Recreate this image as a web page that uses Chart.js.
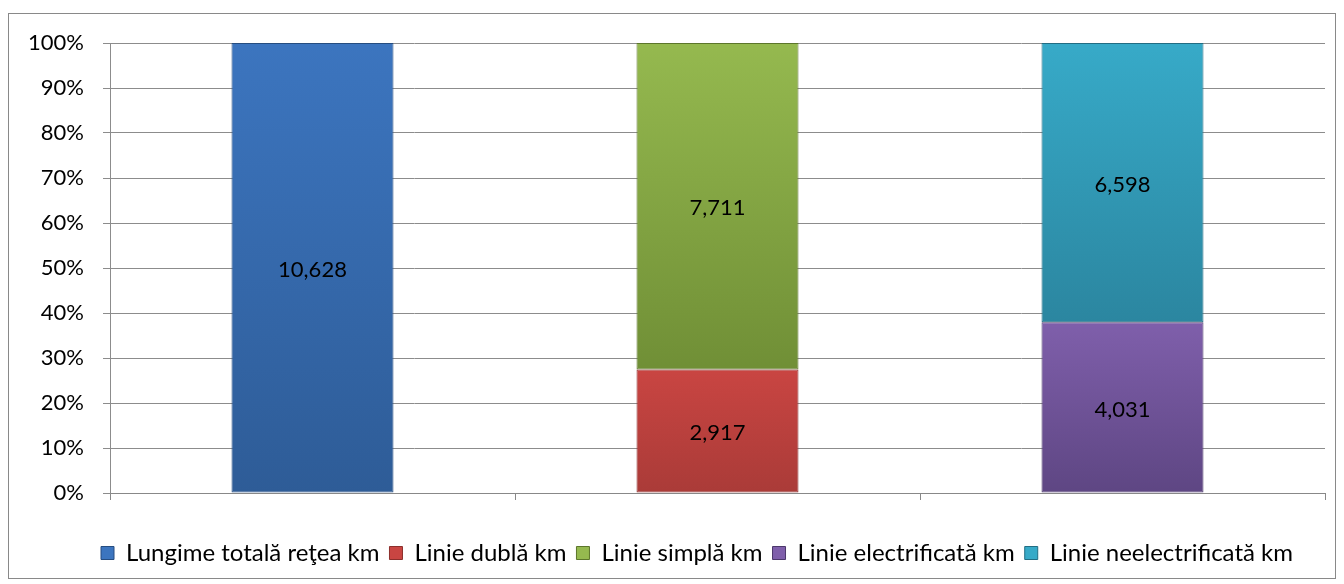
<!DOCTYPE html>
<html>
<head>
<meta charset="utf-8">
<script src="https://cdn.jsdelivr.net/npm/chart.js@4/dist/chart.umd.min.js"></script>
<style>
  body { margin: 0; background: #fff; }
  #box {
    position: absolute; left: 8px; top: 13px;
    width: 1328px; height: 566px;
    border: 1px solid #898989; box-sizing: border-box;
  }
</style>
</head>
<body>
<div id="box"><canvas id="myChart"></canvas></div>
<script>
// categories (x axis has no visible labels)
let categories = ['Total', 'Dublă / simplă', 'Electrificare'];

// km per series, one value per category
let seriesNames = ['Lungime totală reţea km', 'Linie dublă km', 'Linie simplă km',
    'Linie electrificată km', 'Linie neelectrificată km'];
let totalKm = [10628, 0, 0];
let dublaKm = [0, 2917, 0];
let simplaKm = [0, 7711, 0];
let electrKm = [0, 0, 4031];
let neelectrKm = [0, 0, 6598];

let yTicks = [0, 10, 20, 30, 40, 50, 60, 70, 80, 90, 100];

// gradient colours: top, bottom, edge
let colorsTop = ['#3c75bf', '#c94542', '#95b94f', '#7f5fab', '#37aac8'];
let colorsBottom = ['#2e5c97', '#aa3b38', '#708f36', '#5e4683', '#2b86a0'];
let colorsEdge = ['#264d80', '#8c2f2c', '#5c762b', '#4c386b', '#226d83'];

let raw = [totalKm, dublaKm, simplaKm, electrKm, neelectrKm];

// 100% stacked: each value as share of its category sum
let sums = categories.map((c, i) => raw.reduce((s, arr) => s + arr[i], 0));
let percent = raw.map(arr => arr.map((v, i) => v / sums[i] * 100));

function gradientFill(ctx, d) {
    const chart = ctx.chart;
    const area = chart.chartArea;
    const yScale = chart.scales.y;
    if (!area || !yScale) return colorsTop[d];
    let start = 0;
    for (let k = 0; k < d; k++) start += percent[k][ctx.dataIndex];
    const end = start + percent[d][ctx.dataIndex];
    const y0 = yScale.getPixelForValue(end);
    const y1 = yScale.getPixelForValue(start);
    if (!isFinite(y0) || !isFinite(y1) || y0 === y1) return colorsTop[d];
    const g = chart.ctx.createLinearGradient(0, y0, 0, y1);
    g.addColorStop(0, colorsTop[d]);
    g.addColorStop(1, colorsBottom[d]);
    return g;
}

let datasets = seriesNames.map((name, d) => ({
    label: name,
    data: percent[d],
    backgroundColor: ctx => gradientFill(ctx, d),
    borderColor: colorsEdge[d],
    borderWidth: 1,
    borderSkipped: false,
    categoryPercentage: 0.4,
    barPercentage: 1
}));

// value labels in the middle of each segment
const valueLabels = {
    id: 'valueLabels',
    afterDatasetsDraw(chart) {
        const ctx = chart.ctx;
        ctx.save();
        ctx.font = '22px Lato';
        ctx.fillStyle = '#000';
        ctx.textAlign = 'center';
        ctx.textBaseline = 'middle';
        chart.data.datasets.forEach((ds, d) => {
            const meta = chart.getDatasetMeta(d);
            meta.data.forEach((bar, i) => {
                const v = raw[d][i];
                if (!v) return;
                ctx.fillText(v.toLocaleString('en-US'), bar.x, (bar.y + bar.base) / 2 + 2);
            });
        });
        ctx.restore();
    }
};

// legend sits a little right of centre in the original
const legendShift = {
    id: 'legendShift',
    afterLayout(chart) {
        if (chart.legend) {
            chart.legend.left += 30;
            chart.legend.right += 30;
        }
    }
};

let myChart = document.getElementById('myChart').getContext('2d');

let chart = new Chart(myChart, {
    type: 'bar',
    data: {
        labels: categories,
        datasets: datasets
    },
    options: {
        responsive: true,
        maintainAspectRatio: false,
        animation: false,
        layout: {
            padding: { top: 29, right: 10, left: 0, bottom: 3 }
        },
        scales: {
            x: {
                stacked: true,
                grid: {
                    drawOnChartArea: false,
                    drawTicks: true,
                    tickLength: 7,
                    color: '#888888',
                    offset: true
                },
                border: { color: '#888888' },
                ticks: { callback: () => '' },
                afterFit: s => { s.height = 38; }
            },
            y: {
                stacked: true,
                min: 0,
                max: 100,
                afterBuildTicks: s => { s.ticks = yTicks.map(v => ({ value: v })); },
                grid: {
                    color: '#8c8c8c',
                    tickLength: 7
                },
                border: { color: '#8c8c8c' },
                ticks: {
                    padding: 19,
                    color: '#000',
                    font: { family: 'Lato', size: 22 },
                    callback: v => v + '%'
                },
                afterFit: s => {
                    s.width = 101;
                    s.paddingTop = 0;
                    s.paddingBottom = 0;
                }
            }
        },
        plugins: {
            legend: {
                position: 'bottom',
                labels: {
                    boxWidth: 13,
                    boxHeight: 13,
                    padding: 10,
                    color: '#000',
                    font: { family: 'Lato', size: 24 },
                    generateLabels: ch => seriesNames.map((name, d) => ({
                        text: name,
                        fillStyle: colorsTop[d],
                        strokeStyle: colorsEdge[d],
                        lineWidth: 1,
                        datasetIndex: d
                    }))
                }
            },
            tooltip: { enabled: false }
        }
    },
    plugins: [valueLabels, legendShift]
});
</script>
</body>
</html>
